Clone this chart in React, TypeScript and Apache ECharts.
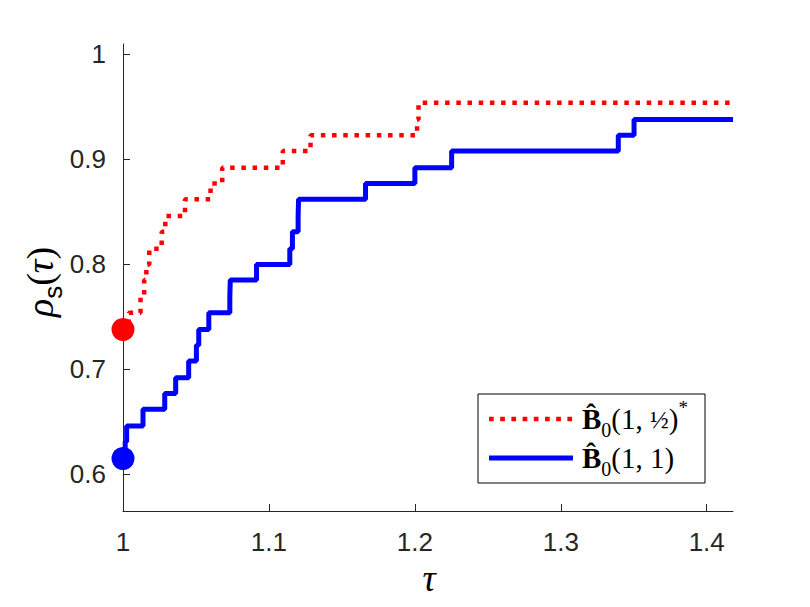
import React, { useEffect, useRef } from "react";
import * as echarts from "echarts";

// Step points (x = tau, y = rho_s(tau))
const redX = [1, 1.004, 1.012, 1.0145, 1.016, 1.018, 1.0265, 1.029, 1.0425, 1.06, 1.068, 1.1095, 1.1285, 1.2015, 1.2025, 1.418];
const redY = [0.738, 0.754, 0.769, 0.785, 0.8, 0.815, 0.831, 0.846, 0.862, 0.877, 0.892, 0.908, 0.923, 0.938, 0.954, 0.954];

const blueX = [1, 1.0015, 1.0025, 1.0137, 1.0286, 1.0361, 1.045, 1.0503, 1.0519, 1.0588, 1.0732, 1.0735, 1.0915, 1.1143, 1.1161, 1.12, 1.1203, 1.1662, 1.2, 1.2252, 1.3394, 1.3502, 1.418];
const blueY = [0.615, 0.631, 0.646, 0.662, 0.677, 0.692, 0.708, 0.723, 0.738, 0.754, 0.769, 0.785, 0.8, 0.815, 0.831, 0.846, 0.862, 0.877, 0.892, 0.908, 0.923, 0.938, 0.938];

const redStart = [1, 0.738];
const blueStart = [1, 0.615];

const xTicks = [1, 1.1, 1.2, 1.3, 1.4];
const yTicks = [0.6, 0.7, 0.8, 0.9, 1];

const AX = "#262626";
const SANS = "'Liberation Sans', Arial, Helvetica, sans-serif";
const SERIF = "'Liberation Serif', 'DejaVu Serif', serif";

export default function App() {
  const ref = useRef<HTMLDivElement>(null);
  useEffect(() => {
    if (!ref.current) return;
    const chart = echarts.init(ref.current, null, { renderer: "svg" });
    const zip = (xs: number[], ys: number[]) => xs.map((x, i) => [x, ys[i]]);
    const legendRich = {
      b: { fontFamily: SERIF, fontWeight: "bold", fontSize: 29, lineHeight: 42, verticalAlign: "middle", color: "#000" },
      sub: { fontFamily: SERIF, fontSize: 20, lineHeight: 20, verticalAlign: "bottom", color: "#000" },
      n: { fontFamily: SERIF, fontSize: 29, lineHeight: 42, verticalAlign: "middle", color: "#000" },
      fr: { fontFamily: SERIF, fontSize: 25, lineHeight: 42, verticalAlign: "middle", color: "#000" },
      sup: { fontFamily: SERIF, fontSize: 19, lineHeight: 19, verticalAlign: "top", color: "#000" },
    };
    chart.setOption({
      animation: false,
      backgroundColor: "#fff",
      grid: { left: 123, right: 77, top: 44, bottom: 96, containLabel: false },
      xAxis: {
        type: "value",
        min: 1,
        max: 1.418,
        axisLine: { show: true, lineStyle: { color: AX, width: 1 } },
        axisTick: { show: true, inside: true, length: 7, lineStyle: { color: AX }, customValues: xTicks },
        axisLabel: { color: AX, fontFamily: SANS, fontSize: 26, margin: 18, customValues: xTicks, formatter: (v: number) => String(+v.toFixed(1)) },
        splitLine: { show: false },
      },
      yAxis: {
        type: "value",
        min: 0.565,
        max: 1.01,
        axisLine: { show: true, lineStyle: { color: AX, width: 1 } },
        axisTick: { show: true, inside: true, length: 7, lineStyle: { color: AX }, customValues: yTicks },
        axisLabel: { color: AX, fontFamily: SANS, fontSize: 26, margin: 17, customValues: yTicks, formatter: (v: number) => String(+v.toFixed(1)) },
        splitLine: { show: false },
      },
      series: [
        {
          type: "line",
          name: "B0(1,1/2)*",
          step: "end",
          symbol: "none",
          data: zip(redX, redY),
          lineStyle: { color: "#ff0000", width: 4.5, type: [4.5, 6.7], cap: "butt" },
          z: 3,
        },
        {
          type: "line",
          name: "B0(1,1)",
          step: "end",
          symbol: "none",
          data: zip(blueX, blueY),
          lineStyle: { color: "#0000ff", width: 5 },
          z: 2,
        },
        {
          type: "scatter",
          symbol: "circle",
          symbolSize: 23,
          data: [redStart],
          itemStyle: { color: "#ff0000", opacity: 1 },
          z: 4,
        },
        {
          type: "scatter",
          symbol: "circle",
          symbolSize: 23,
          data: [blueStart],
          itemStyle: { color: "#0000ff", opacity: 1 },
          z: 4,
        },
      ],
      graphic: [
        {
          type: "text",
          x: 429,
          y: 578,
          style: { text: "τ", font: `italic 37px ${SERIF}`, fill: "#000", align: "center", verticalAlign: "middle" },
        },
        {
          type: "text",
          x: 40,
          y: 282,
          rotation: Math.PI / 2,
          style: {
            text: "{r|ρ}{s|s}{p|(}{t|τ}{p|)}",
            align: "center",
            verticalAlign: "middle",
            fill: "#000",
            rich: {
              r: { fontFamily: SERIF, fontStyle: "italic", fontSize: 38, lineHeight: 52, verticalAlign: "middle", fill: "#000" },
              s: { fontFamily: SANS, fontSize: 26, lineHeight: 26, verticalAlign: "bottom", fill: "#000" },
              p: { fontFamily: SERIF, fontSize: 38, lineHeight: 52, verticalAlign: "middle", fill: "#000" },
              t: { fontFamily: SERIF, fontStyle: "italic", fontSize: 38, lineHeight: 52, verticalAlign: "middle", fill: "#000" },
            },
          },
        },
        {
          type: "rect",
          z: 10,
          shape: { x: 478, y: 394, width: 227, height: 89 },
          style: { fill: "#fff", stroke: "#000", lineWidth: 1 },
        },
        {
          type: "line",
          z: 11,
          shape: { x1: 489, y1: 419, x2: 573, y2: 419 },
          style: { stroke: "#ff0000", lineWidth: 4.7, lineDash: [4.7, 6.5], lineCap: "butt" },
        },
        {
          type: "line",
          z: 11,
          shape: { x1: 489, y1: 458, x2: 573, y2: 458 },
          style: { stroke: "#0000ff", lineWidth: 5 },
        },
        {
          type: "text",
          z: 11,
          x: 582,
          y: 419,
          style: {
            text: "{b|B\u0302}{sub|0}{n|(1, }{fr|½}{n|)}{sup|*}",
            verticalAlign: "middle",
            fill: "#000",
            rich: legendRich,
          },
        },
        {
          type: "text",
          z: 11,
          x: 582,
          y: 458,
          style: {
            text: "{b|B\u0302}{sub|0}{n|(1, 1)}",
            verticalAlign: "middle",
            fill: "#000",
            rich: legendRich,
          },
        },
      ],
    });
    return () => chart.dispose();
  }, []);
  return <div ref={ref} style={{ position: "absolute", left: 0, top: 0, width: 810, height: 607 }} />;
}
